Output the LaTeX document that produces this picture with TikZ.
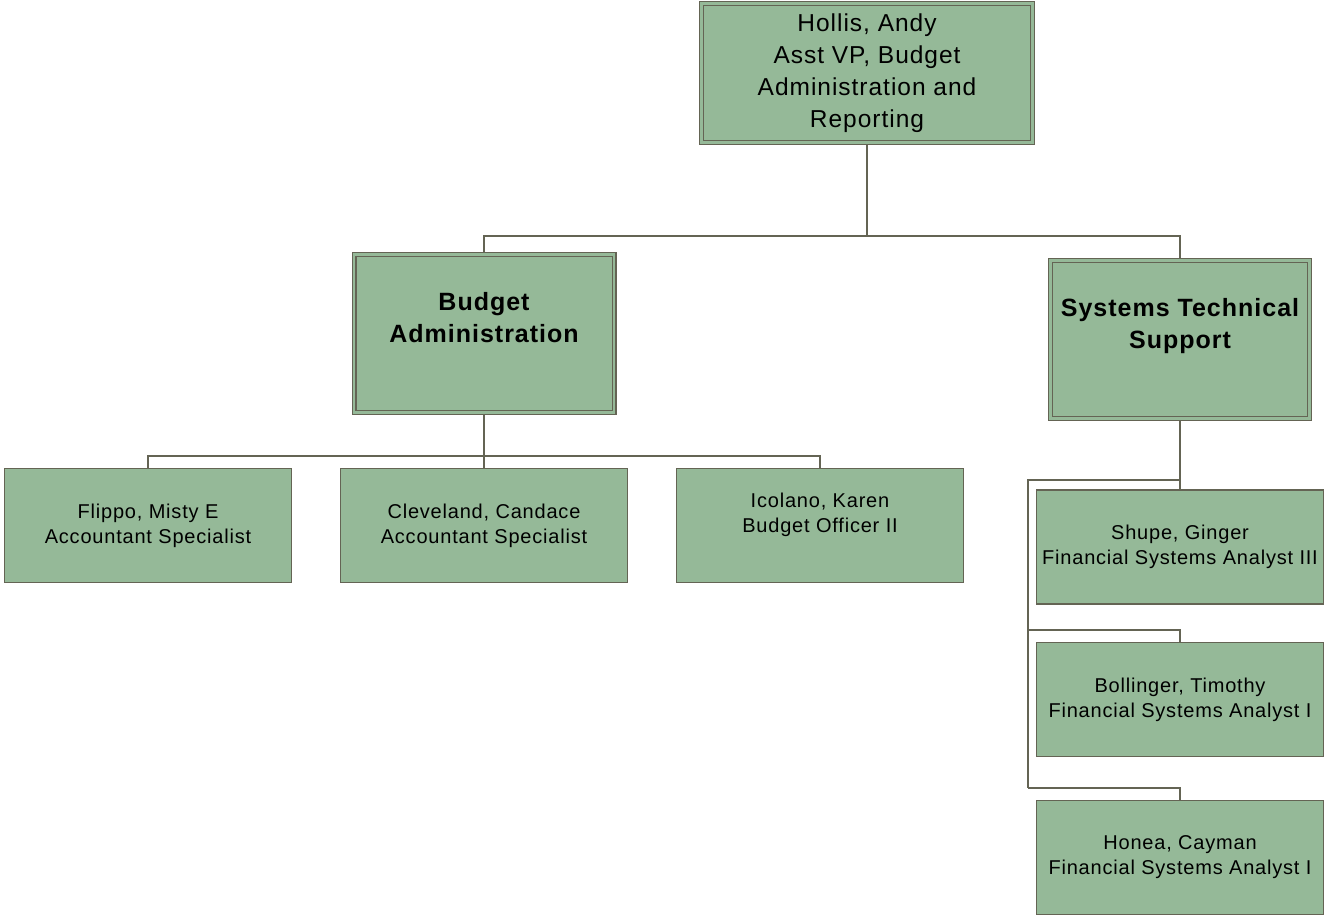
\documentclass[tikz,border=0pt]{standalone}
\usepackage{fontspec}
\setmainfont{Liberation Sans}[LetterSpace=4]
\definecolor{boxgreen}{RGB}{149,185,152}
\definecolor{boxline}{RGB}{100,100,84}

\begin{document}
\begin{tikzpicture}[x=1pt,y=1pt,yscale=-1,xscale=1,
	headbox/.style={draw=boxline, line width=1.2pt, double=boxgreen, double distance=2.6pt, fill=boxgreen, outer sep=2.5pt, align=center},
	staffbox/.style={draw=boxline, line width=1.8pt, fill=boxgreen, minimum width=287, minimum height=114, align=center, font=\fontsize{20}{25}\selectfont},
	orgline/.style={draw=boxline, line width=1.8pt}]
	\useasboundingbox (0,0) rectangle (1326,917);
	
	%Shape: Rectangle [head]
	\node [headbox, minimum width=331, minimum height=139, font=\fontsize{24.5}{32}\selectfont] (hollis) at (867,73) {Hollis, Andy\\Asst VP, Budget\\Administration and\\Reporting};
	%Shape: Rectangle [units]
	\node [headbox, minimum width=260, minimum height=158, font=\bfseries\fontsize{25}{32}\selectfont] (budget) at (484,333.5) {Budget\\Administration\\~};
	\node [headbox, minimum width=259, minimum height=158, font=\bfseries\fontsize{25}{32}\selectfont] (systems) at (1180,339.5) {Systems Technical\\Support\\~};
	
	%Shape: Rectangle [staff]
	\node [staffbox] (flippo) at (148,525.5) {Flippo, Misty E\\Accountant Specialist};
	\node [staffbox] (cleveland) at (484,525.5) {Cleveland, Candace\\Accountant Specialist};
	\node [staffbox] (icolano) at (820,525.5) {Icolano, Karen\\Budget Officer II\\~};
	\node [staffbox] (shupe) at (1180,547) {Shupe, Ginger\\Financial Systems Analyst III};
	\node [staffbox] (bollinger) at (1180,699.5) {Bollinger, Timothy\\Financial Systems Analyst I};
	\node [staffbox] (honea) at (1180,857.5) {Honea, Cayman\\Financial Systems Analyst I};
	\coordinate (spine) at (1028,788);
	
	%Straight Lines
	\draw [orgline] (hollis.south) -- ++(0,91) -| (budget.north);
	\draw [orgline] (hollis.south) -- ++(0,91) -| (systems.north);
	\draw [orgline] (budget.south) -- ++(0,41) -| (flippo.north);
	\draw [orgline] (budget.south) -- (cleveland.north);
	\draw [orgline] (budget.south) -- ++(0,41) -| (icolano.north);
	\draw [orgline] (systems.south) -- (shupe.north);
	\draw [orgline] (shupe.north) -- ++(0,-9) -| (spine);
	\draw [orgline] (bollinger.north) -- ++(0,-12) -| (spine);
	\draw [orgline] (spine) -| (honea.north);
	
\end{tikzpicture}
\end{document}
